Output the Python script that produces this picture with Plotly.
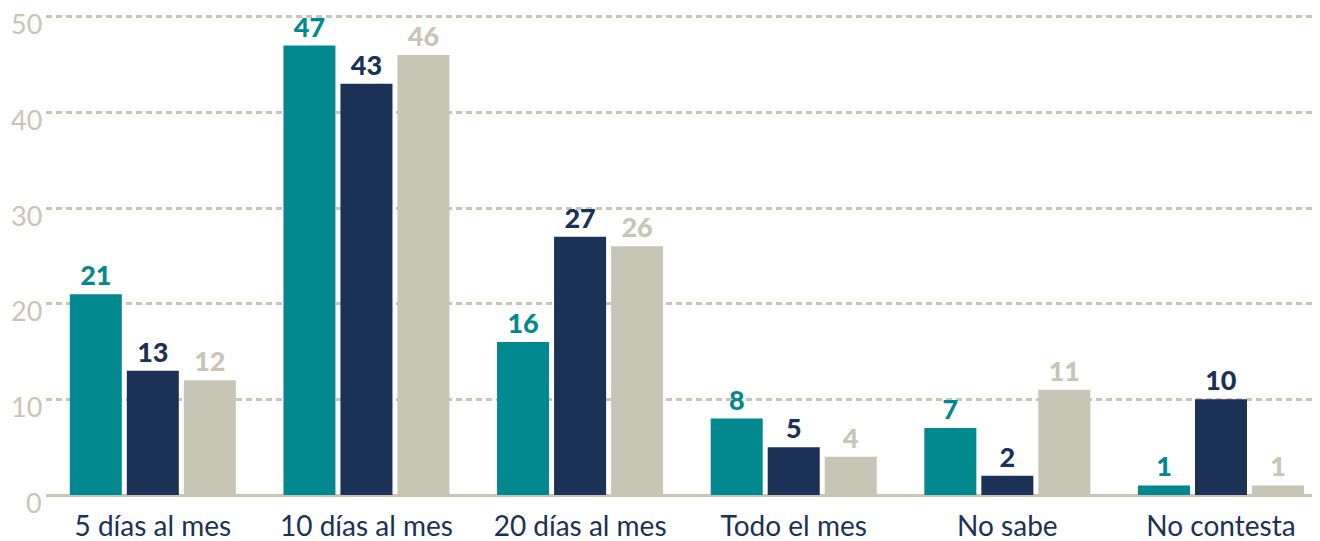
import plotly.graph_objects as go

categories = ["5 días al mes", "10 días al mes", "20 días al mes", "Todo el mes", "No sabe", "No contesta"]
serie_a = [21, 47, 16, 8, 7, 1]
serie_b = [13, 43, 27, 5, 2, 10]
serie_c = [12, 46, 26, 4, 11, 1]
y_ticks = [0, 10, 20, 30, 40, 50]

colors = ["#02888F", "#1B3155", "#C6C5B6"]
fig = go.Figure()
for name, vals, col in zip(["A", "B", "C"], [serie_a, serie_b, serie_c], colors):
    fig.add_trace(go.Bar(
        x=categories, y=vals, name=name, marker=dict(color=col, line=dict(width=0)),
        text=[str(v) for v in vals], textposition="outside",
        textfont=dict(family="Lato", size=27, color=col, weight=900),
        cliponaxis=False,
    ))

# y tick labels as annotations (slightly below their gridlines, as in the reference)
for v in y_ticks:
    fig.add_annotation(
        x=0, xref="paper", y=v, yref="y", text=str(v), showarrow=False,
        xanchor="right", yanchor="middle", xshift=-3, yshift=-7,
        font=dict(family="Lato", size=27, color="#C6C5B6"),
        borderpad=0,
    )

# page has 8px body margin, so the figure is 1312x533 placed at (8, 8)
fig.update_layout(
    width=1312, height=533,
    margin=dict(l=38, r=0, t=6, b=46),
    paper_bgcolor="white", plot_bgcolor="white",
    showlegend=False,
    barmode="group", bargap=0.1994, bargroupgap=0.0877,
    xaxis=dict(
        range=[-0.5, 5.4635], showgrid=False, showline=False, ticks="",
        automargin=False, ticklabelstandoff=12,
        tickfont=dict(family="Lato", size=28, color="#1B3155"),
    ),
    yaxis=dict(
        range=[0, 50.3], tickvals=y_ticks, showgrid=True, automargin=False,
        gridcolor="#C6C5B6", gridwidth=2.5, griddash="6px,4px",
        zeroline=True, zerolinecolor="#C6C5B6", zerolinewidth=3,
        showticklabels=False, ticks="",
    ),
)
fig.write_html("out.html")
